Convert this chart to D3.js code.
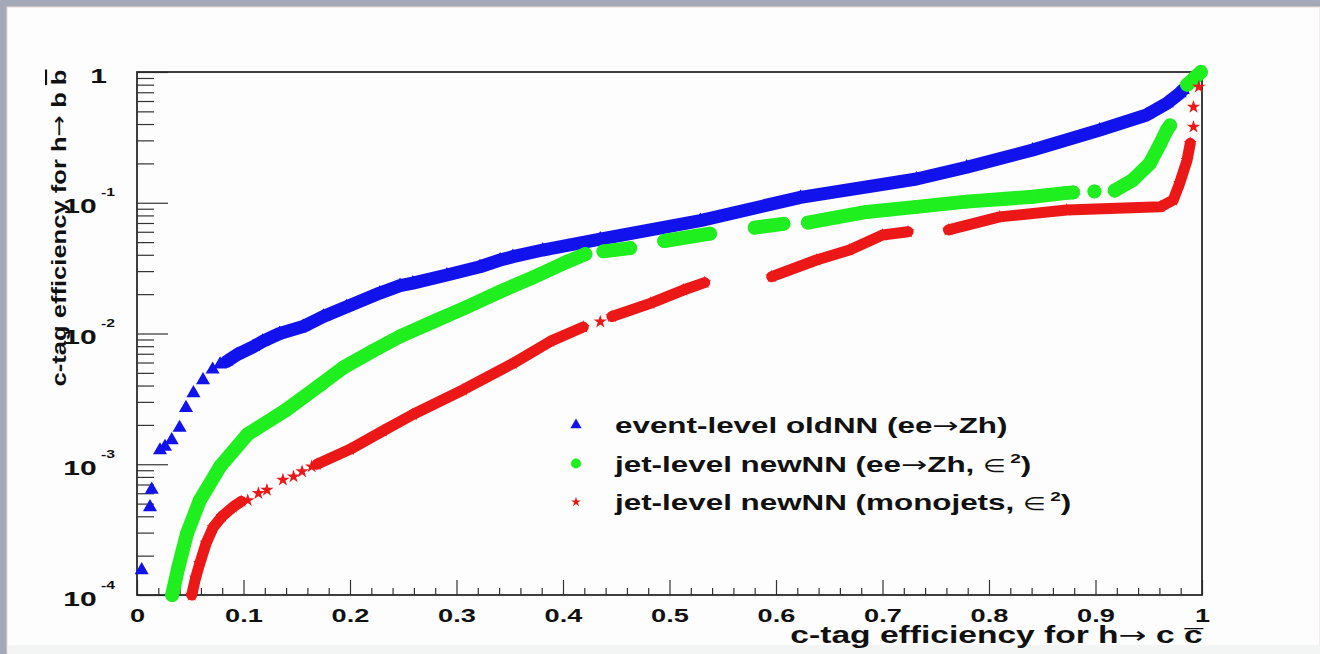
<!DOCTYPE html>
<html>
<meta charset="utf-8">
<style>
body {
  margin: 0;
  width: 1320px;
  height: 654px;
  background: #a3a9b7;
  overflow: hidden;
}
svg {
  display: block;
}
text {
  font-family: "Liberation Sans", Arial, Helvetica, sans-serif;
  font-weight: bold;
  fill: #111;
}
.arrow {
  font-family: "DejaVu Sans", sans-serif;
  font-weight: normal;
}
.tick line {
  stroke: #333;
  stroke-width: 1.2;
}
</style>
<body>
<script src="https://cdn.jsdelivr.net/npm/d3@7"></script>
<script>
// values: [c-tag eff. for h->cc, c-tag eff. for h->bb]
// dense runs are drawn as thick bands, null = hole in the run
var oldNNBand = [
  [0.084, 6.1e-3], [0.094, 6.9e-3], [0.109, 7.9e-3], [0.118, 8.7e-3], [0.134, 1.0e-2],
  [0.156, 1.13e-2], [0.175, 1.35e-2], [0.197, 1.6e-2], [0.228, 2.04e-2], [0.247, 2.32e-2],
  [0.259, 2.43e-2], [0.291, 2.8e-2], [0.322, 3.24e-2], [0.341, 3.65e-2], [0.353, 3.87e-2],
  [0.381, 4.35e-2], [0.435, 5.28e-2], [0.529, 7.3e-2], [0.623, 1.1e-1], [0.732, 1.52e-1],
  [0.779, 1.87e-1], [0.841, 2.53e-1], [0.904, 3.6e-1], [0.948, 4.69e-1], [0.967, 5.76e-1],
  [0.979, 6.87e-1], [0.982, 7.28e-1]
];
var oldNNLoose = [
  [0.0044, 1.55e-4], [0.0122, 4.7e-4], [0.0138, 6.4e-4], [0.0216, 1.28e-3], [0.0263, 1.36e-3],
  [0.0326, 1.53e-3], [0.040, 1.9e-3], [0.046, 2.7e-3], [0.053, 3.5e-3], [0.062, 4.4e-3],
  [0.071, 5.3e-3], [0.078, 5.8e-3]
];
var newNNZhBand = [
  [0.033, 1.0e-4], [0.039, 1.65e-4], [0.047, 2.95e-4], [0.059, 5.3e-4], [0.078, 9.6e-4],
  [0.104, 1.7e-3], [0.140, 2.6e-3], [0.173, 4.1e-3], [0.194, 5.5e-3], [0.222, 7.4e-3],
  [0.247, 9.5e-3], [0.278, 1.23e-2], [0.310, 1.6e-2], [0.341, 2.09e-2], [0.372, 2.69e-2],
  [0.404, 3.54e-2], [0.421, 4.05e-2],
  null,
  [0.438, 4.25e-2], [0.463, 4.5e-2],
  null,
  [0.495, 5.1e-2], [0.538, 5.8e-2],
  null,
  [0.580, 6.45e-2], [0.607, 6.9e-2],
  null,
  [0.630, 7.05e-2], [0.685, 8.5e-2], [0.732, 9.3e-2], [0.779, 1.02e-1], [0.841, 1.11e-1],
  [0.873, 1.19e-1], [0.879, 1.2e-1],
  null,
  [0.899, 1.22e-1],
  null,
  [0.918, 1.24e-1], [0.935, 1.49e-1], [0.951, 2.0e-1], [0.961, 2.85e-1], [0.967, 3.6e-1],
  [0.970, 3.9e-1],
  null,
  [0.986, 8.0e-1], [0.993, 9.0e-1], [0.999, 1.0]
];
var monojetBand = [
  [0.0514, 1.0e-4], [0.055, 1.35e-4], [0.059, 1.75e-4], [0.065, 2.5e-4], [0.0716, 3.3e-4],
  [0.080, 4.0e-4], [0.090, 4.7e-4], [0.098, 5.2e-4],
  null,
  [0.169, 1.0e-3], [0.200, 1.3e-3], [0.231, 1.8e-3], [0.259, 2.4e-3], [0.306, 3.7e-3],
  [0.353, 5.9e-3], [0.388, 8.7e-3], [0.419, 1.12e-2],
  null,
  [0.446, 1.35e-2], [0.482, 1.7e-2], [0.513, 2.15e-2], [0.533, 2.45e-2],
  null,
  [0.596, 2.72e-2], [0.638, 3.65e-2], [0.669, 4.35e-2], [0.700, 5.66e-2], [0.724, 6.0e-2],
  null,
  [0.762, 6.2e-2], [0.810, 7.8e-2], [0.873, 8.8e-2], [0.961, 9.3e-2], [0.973, 1.05e-1],
  [0.979, 1.41e-1], [0.986, 2.12e-1], [0.989, 2.85e-1]
];
var monojetLoose = [
  [0.104, 5.3e-4], [0.114, 6.0e-4], [0.122, 6.35e-4], [0.137, 7.6e-4], [0.147, 8.05e-4],
  [0.155, 8.8e-4], [0.164, 9.6e-4], [0.435, 1.23e-2], [0.992, 3.8e-1], [0.992, 5.4e-1],
  [0.997, 7.7e-1]
];
var xMajor = [0, 0.1, 0.2, 0.3, 0.4, 0.5, 0.6, 0.7, 0.8, 0.9, 1];
var yMajor = [1e-4, 1e-3, 1e-2, 1e-1, 1];
var yExp = ["-4", "-3", "-2", "-1", ""];
var legendNames = ["event-level oldNN (ee\u2192Zh)", "jet-level newNN (ee\u2192Zh, ", "jet-level newNN (monojets, "];

var SX = 1.43;   // the source picture is stretched sideways

var svg = d3.select("body").append("svg")
  .attr("width", 1320)
  .attr("height", 654);

svg.append("rect").attr("x", 7).attr("y", 7).attr("width", 1313).attr("height", 647)
  .attr("fill", "#fdfdfd").attr("stroke", "#e9d6d8").attr("stroke-width", 1);
svg.append("rect").attr("x", 8).attr("y", 645).attr("width", 1312).attr("height", 9)
  .attr("fill", "#f3f5f5");

var pLeft = 137, pRight = 1202, pTop = 72, pBottom = 595;
var x = d3.scaleLinear().domain([0, 1]).range([pLeft, pRight]);
var y = d3.scaleLog().domain([1e-4, 1]).range([pBottom, pTop]);

// splits a label round the arrow so the arrow gets its own thin font
function arrowText(sel, str) {
  var parts = str.split("\u2192");
  sel.append("tspan").text(parts[0]);
  if (parts.length > 1) {
    sel.append("tspan").attr("class", "arrow").text("\u2192");
    sel.append("tspan").text(parts[1]);
  }
}

// minor ticks
var xMinor = d3.range(0, 51).map(function(i) { return i / 50; })
  .filter(function(d, i) { return i % 5 !== 0; });
var yMinor = y.ticks().filter(function(d) {
  var l = Math.log10(d); return Math.abs(l - Math.round(l)) > 1e-6;
});

svg.append("g")
  .attr("transform", "translate(0," + pBottom + ")")
  .call(d3.axisBottom(x).tickValues(xMinor).tickSize(-7).tickFormat(""))
  .call(function(g) { g.select(".domain").remove(); });

var xAxis = svg.append("g")
  .attr("transform", "translate(0," + pBottom + ")")
  .call(d3.axisBottom(x).tickValues(xMajor).tickSize(-15).tickPadding(14)
    .tickFormat(function(d) { return (d === 0 || d === 1) ? String(d) : d3.format(".1f")(d); }));
xAxis.select(".domain").remove();
xAxis.selectAll(".tick text")
  .attr("font-size", 19)
  .attr("font-family", null)
  .attr("fill", "#111")
  .attr("transform", "scale(" + SX + ",1)");

svg.append("g")
  .attr("transform", "translate(" + pLeft + ",0)")
  .call(d3.axisLeft(y).tickValues(yMinor).tickSize(-17).tickFormat(""))
  .call(function(g) { g.select(".domain").remove(); });

var yAxis = svg.append("g")
  .attr("transform", "translate(" + pLeft + ",0)")
  .call(d3.axisLeft(y).tickValues(yMajor).tickSize(-31).tickFormat(""));
yAxis.select(".domain").remove();
yAxis.selectAll(".tick").each(function(d, i) {
  var t = d3.select(this).append("text")
    .attr("text-anchor", "end")
    .attr("font-size", 21)
    .attr("transform", "translate(" + (d === 1 ? -30 : -22) + ",10) scale(" + SX + ",1)");
  if (d === 1) {
    t.text("1");
  } else {
    t.append("tspan").text("10");
    t.append("tspan").attr("font-size", 11).attr("dx", 3).attr("dy", -17).text(yExp[i]);
  }
});

// frame
svg.append("rect")
  .attr("x", pLeft).attr("y", pTop)
  .attr("width", pRight - pLeft).attr("height", pBottom - pTop)
  .attr("fill", "none").attr("stroke", "#2a2a2a").attr("stroke-width", 1.8);

// axis titles
var yTitle = svg.append("text")
  .attr("transform", "translate(66,228) rotate(-90)")
  .attr("text-anchor", "middle")
  .attr("font-size", 21)
  .attr("textLength", 317)
  .attr("lengthAdjust", "spacingAndGlyphs");
arrowText(yTitle, "c-tag efficiency for h\u2192 b ");
yTitle.append("tspan").style("text-decoration", "overline").text("b");

var xTitle = svg.append("g")
  .attr("transform", "translate(1203,643) scale(1.46,1)")
  .append("text")
  .attr("text-anchor", "end")
  .attr("font-size", 23);
arrowText(xTitle, "c-tag efficiency for h\u2192 c c");
// bar over the last c, pulled back onto it
xTitle.append("tspan").attr("dx", -12.5).attr("dy", 3).text("\u00af");

// series
var series = [
  {band: oldNNBand, loose: oldNNLoose, color: "#1212ec", width: 13, symbol: d3.symbolTriangle, size: 85, legendSize: 55},
  {band: newNNZhBand, loose: [], color: "#1fee1f", width: 14, symbol: d3.symbolCircle, size: 150, legendSize: 80},
  {band: monojetBand, loose: monojetLoose, color: "#ec1818", width: 11, symbol: d3.symbolStar, size: 55, legendSize: 30}
];

var line = d3.line()
  .defined(function(d) { return d !== null; })
  .x(function(d) { return x(d[0]); })
  .y(function(d) { return y(d[1]); });

series.forEach(function(s) {
  var g = svg.append("g");
  g.append("path")
    .attr("d", line(s.band))
    .attr("fill", "none")
    .attr("stroke", s.color)
    .attr("stroke-width", s.width)
    .attr("stroke-linecap", "round")
    .attr("stroke-linejoin", "round");
  var sym = d3.symbol().type(s.symbol).size(s.size);
  g.selectAll("path.mk")
    .data(s.band.filter(function(d) { return d !== null; }).concat(s.loose))
    .enter().append("path")
    .attr("class", "mk")
    .attr("d", sym)
    .attr("transform", function(d) { return "translate(" + x(d[0]) + "," + y(d[1]) + ")"; })
    .attr("fill", s.color);
});

// legend
var legend = svg.selectAll(".legend")
  .data(legendNames)
  .enter().append("g")
  .attr("class", "legend")
  .attr("transform", function(d, i) { return "translate(0," + (425 + i * 38.5) + ")"; });

legend.append("path")
  .attr("d", function(d, i) { return d3.symbol().type(series[i].symbol).size(series[i].legendSize)(); })
  .attr("transform", "translate(576,0)")
  .attr("fill", function(d, i) { return series[i].color; });

var lt = legend.append("text")
  .attr("transform", "translate(615,8) scale(1.46,1)")
  .attr("font-size", 21.5);
lt.each(function(d) { arrowText(d3.select(this), d); });
var eps = lt.filter(function(d, i) { return i > 0; });
eps.append("tspan").attr("class", "arrow").attr("font-size", 18).text("\u2208");
eps.append("tspan").attr("font-size", 13).attr("dx", 3).attr("dy", -9).text("2");
eps.append("tspan").attr("dy", 9).text(")");
</script>
</body>
</html>
